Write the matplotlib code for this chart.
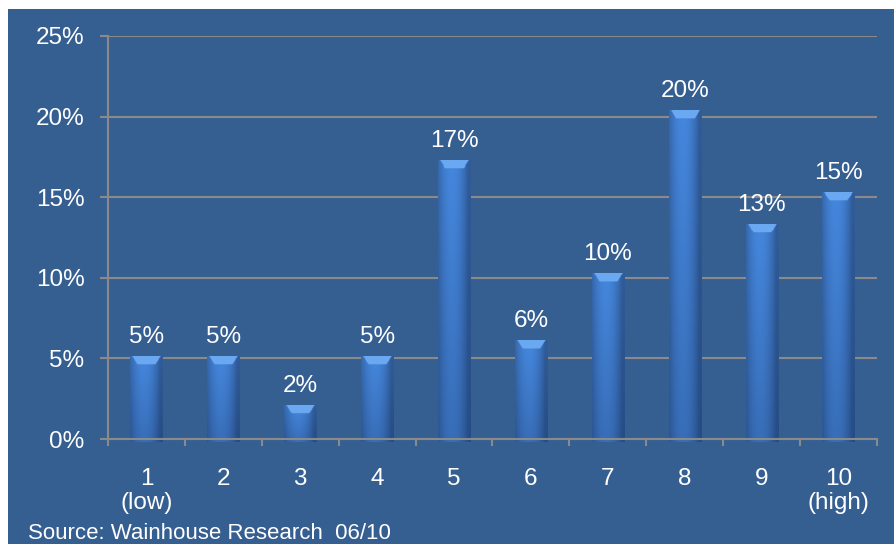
import numpy as np
import matplotlib.pyplot as plt
from matplotlib.patches import Rectangle
from matplotlib.ticker import FixedLocator, PercentFormatter

categories = ['1\n(low)', '2', '3', '4', '5', '6', '7', '8', '9', '10\n(high)']
values = [5.1, 5.1, 2.1, 5.1, 17.3, 6.1, 10.3, 20.4, 13.3, 15.3]
value_labels = ['5%', '5%', '2%', '5%', '17%', '6%', '10%', '20%', '13%', '15%']
source = 'Source: Wainhouse Research  06/10'

bg = '#365f91'
grid_col = '#8a8a8a'
fs = 17.5
plt.rcParams['font.family'] = ['Liberation Sans', 'DejaVu Sans']

fig = plt.figure(figsize=(8.95, 5.44), dpi=100, facecolor='white')
fig.patches.append(Rectangle((8 / 895, 0), 1, 1 - 9 / 544, transform=fig.transFigure,
                             facecolor=bg, edgecolor='none', zorder=-5))
ax = fig.add_axes([108 / 895, 1 - 439 / 544, (877 - 108) / 895, (439 - 36) / 544])
ax.set_facecolor('none')
ax.set_zorder(2)

x = np.arange(1, len(values) + 1)
width = 0.42
base = -0.18  # bars sit a little below the axis line
bars = ax.bar(x, np.array(values) - base, bottom=base, width=width,
              color='#3a70b8', zorder=3, clip_on=False)

# shaded fill: dark sides, lighter middle, brighter towards the top, light cap
prof = np.linspace(-1, 1, 40)
side = 1 - np.abs(prof + 0.15) ** 2
side = np.clip(side, 0, 1)
for b, v in zip(bars, values):
    rows = 240
    img = np.zeros((rows, len(prof), 3))
    for i in range(rows):
        f = 1 - i / (rows - 1)          # 1 at top, 0 at bottom
        y = base + (v - base) * f
        dark = np.array([0.15, 0.30, 0.52]) + f * np.array([0.04, 0.06, 0.08])
        light = np.array([0.22, 0.43, 0.72]) + f * np.array([0.05, 0.10, 0.15])
        c = dark[None, :] + (light - dark)[None, :] * side[:, None]
        if v - y < 0.5:
            inner = np.abs(prof) < 0.88 - (v - y) * 0.65
            c[inner] = [0.42, 0.66, 0.95]
        img[i] = c
    im = ax.imshow(img, extent=(b.get_x(), b.get_x() + b.get_width(), base, v),
                   aspect='auto', zorder=4, interpolation='bilinear')
    im.set_clip_on(False)
    im.set_clip_path(b)

for xi, v, lab in zip(x, values, value_labels):
    ax.annotate(lab, (xi, v), xytext=(0, 6), textcoords='offset points',
                ha='center', va='bottom', color='white', fontsize=fs, zorder=5)

ax.set_xlim(0.5, len(values) + 0.5)
ax.set_ylim(0, 25)
ax.yaxis.set_major_locator(FixedLocator([0, 5, 10, 15, 20, 25]))
ax.yaxis.set_major_formatter(PercentFormatter(decimals=0))
ax.set_xticks(x)
ax.set_xticklabels(categories)
ax.xaxis.set_minor_locator(FixedLocator(np.arange(0.5, len(values) + 1, 1)))

ax.grid(axis='y', color=grid_col, linewidth=1.5, zorder=1)
ax.set_axisbelow(True)
for s in ['top', 'right']:
    ax.spines[s].set_visible(False)
for s in ['left', 'bottom']:
    ax.spines[s].set_color(grid_col)
    ax.spines[s].set_linewidth(1.5)
    ax.spines[s].set_zorder(6)

ax.tick_params(axis='y', colors=grid_col, labelcolor='white', labelsize=fs,
               length=6, width=1.5, pad=11)
ax.tick_params(axis='x', which='major', length=0, pad=21, labelcolor='white',
               labelsize=fs)
ax.tick_params(axis='x', which='minor', length=5, width=1.5, color=grid_col)
for t in ax.get_xticklabels():
    t.set_linespacing(1.1)

fig.text(28 / 895, 0.01, source, color='white', fontsize=16, ha='left', va='baseline')

fig.savefig('out.png', dpi=100, facecolor='white')
